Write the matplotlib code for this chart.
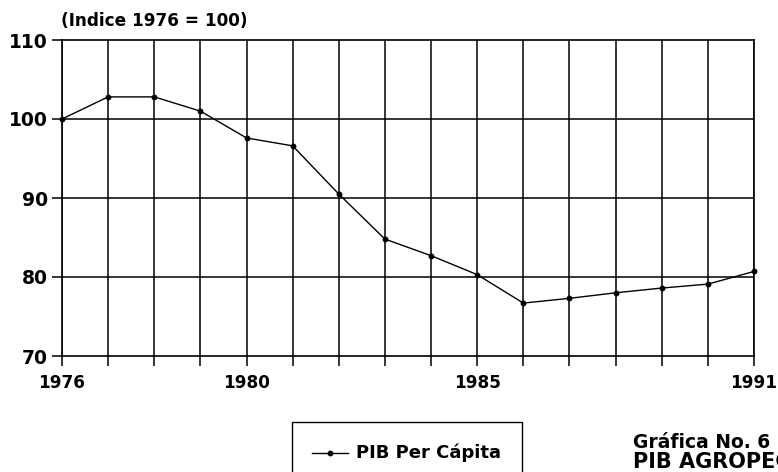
import matplotlib
matplotlib.use("Agg")
import matplotlib.pyplot as plt
from matplotlib.patches import Rectangle
from matplotlib.lines import Line2D

years = list(range(1976, 1992))
pib_per_capita = [100.0, 102.8, 102.8, 101.0, 97.6, 96.6, 90.5, 84.8,
                  82.7, 80.3, 76.7, 77.3, 78.0, 78.6, 79.1, 80.7]
xtick_labels = {1976: "1976", 1980: "1980", 1985: "1985", 1991: "1991"}
yticks = [70, 80, 90, 100, 110]
title = "(Indice 1976 = 100)"
legend_label = "PIB Per Cápita"
caption1 = "Gráfica No. 6"
caption2 = "PIB AGROPECUARIO"

W, H = 778, 472
fig = plt.figure(figsize=(W / 100, H / 100), dpi=100)
plt.rcParams['font.family'] = ['DejaVu Sans']

def fx(px):
    return px / W

def fy(py):
    return 1 - py / H

ax = fig.add_axes([fx(62), fy(356), fx(754) - fx(62), fy(40) - fy(356)])
ax.set_xlim(1976, 1991)
ax.set_ylim(70, 110)

ax.set_xticks(years)
ax.set_xticklabels([xtick_labels.get(y, "") for y in years])
ax.set_yticks(yticks)
ax.set_yticklabels([str(v) for v in yticks])

for y in years:
    ax.axvline(y, color="black", lw=1.1, zorder=1)
for v in yticks[1:-1]:
    ax.axhline(v, color="black", lw=1.1, zorder=1)

ax.plot(years, pib_per_capita, color="black", lw=1.0, marker="o",
        markersize=3.2, zorder=3, clip_on=False)

for s in ax.spines.values():
    s.set_color("black")
    s.set_linewidth(1.2)

ax.tick_params(axis="both", direction="out", length=7, width=1.1,
               colors="black")
ax.tick_params(axis="x", pad=6, labelsize=12.2)
ax.tick_params(axis="y", pad=3, labelsize=13.5)
for lab in ax.get_xticklabels() + ax.get_yticklabels():
    lab.set_fontweight("bold")

fig.text(fx(61), fy(21), title, fontsize=12.2, fontweight="bold",
         ha="left", va="center")

# legend box (extends past bottom edge)
fig.patches.append(Rectangle((fx(292), fy(500)), fx(522) - fx(292),
                             fy(422) - fy(500), transform=fig.transFigure,
                             fill=False, edgecolor="black", lw=1.0))
fig.lines.append(Line2D([fx(312), fx(348)], [fy(453), fy(453)],
                        transform=fig.transFigure, color="black", lw=1.0))
fig.lines.append(Line2D([fx(330)], [fy(453)], transform=fig.transFigure,
                        color="black", marker="o", markersize=3.2, lw=0))
fig.text(fx(356), fy(453), legend_label, fontsize=13, fontweight="bold",
         ha="left", va="center")

fig.text(fx(633), fy(442), caption1, fontsize=13.5, fontweight="bold",
         ha="left", va="center")
fig.text(fx(633), fy(462), caption2, fontsize=15, fontweight="bold",
         ha="left", va="center")

fig.savefig("out.png", dpi=100)
